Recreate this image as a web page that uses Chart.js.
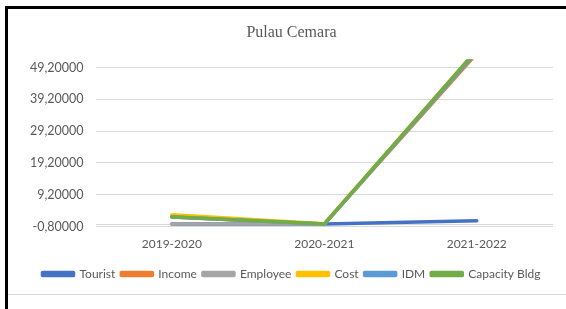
<!DOCTYPE html>
<html lang="id">
<head>
  <meta charset="UTF-8" />
  <title>Pulau Cemara</title>
  <script src="https://cdn.jsdelivr.net/npm/chart.js"></script>
  <style>
    body { margin: 0; background: #fff; }
    #frame {
      position: absolute; left: 5px; top: 6px; width: 561px; height: 303px;
      border-left: 3px solid #000; border-top: 3px solid #000;
    }
    #box {
      position: absolute; left: 0; top: 0; width: 558px; height: 285px;
      border-bottom: 1px solid #d9d9d9;
    }
  </style>
</head>
<body>
  <div id="frame">
    <div id="box"><canvas id="chart"></canvas></div>
  </div>

  <script>
    // data
    const categories = ['2019-2020', '2020-2021', '2021-2022'];
    const tourist  = [0.0, 0.0, 1.0];
    const income   = [2.2, 0.0, 53.6];
    const employee = [0.0, 0.0, 54.3];
    const cost     = [2.9, 0.1, 54.6];
    const idm      = [2.2, 0.0, 54.2];
    const capacity = [2.3, 0.0, 54.7];
    const yTicks = [-0.8, 0, 9.2, 19.2, 29.2, 39.2, 49.2];

    const series = [
      ['Tourist', tourist, '#4472C4'],
      ['Income', income, '#ED7D31'],
      ['Employee', employee, '#A5A5A5'],
      ['Cost', cost, '#FFC000'],
      ['IDM', idm, '#5B9BD5'],
      ['Capacity Bldg', capacity, '#70AD47']
    ];

    const grey = '#595959';

    new Chart(document.getElementById('chart'), {
      type: 'line',
      data: {
        labels: categories,
        datasets: series.map(([label, data, color], i) => ({
          label, data,
          borderColor: color,
          backgroundColor: color,
          borderWidth: 3.5,
          borderJoinStyle: 'round',
          borderCapStyle: 'round',
          pointRadius: 0,
          tension: 0,
          clip: 0,
          order: series.length - i   // last series on top, like Excel
        }))
      },
      options: {
        responsive: true,
        maintainAspectRatio: false,
        animation: false,
        layout: { padding: { left: 22, right: 13, bottom: 4 } },
        plugins: {
          title: {
            display: true,
            text: 'Pulau Cemara',
            color: grey,
            font: { family: 'Liberation Serif', size: 16, weight: 'normal' },
            padding: { top: 14, bottom: 17 }
          },
          legend: {
            position: 'bottom',
            labels: {
              color: grey,
              font: { family: 'Lato', size: 12 },
              boxWidth: 31,
              boxHeight: 3,
              padding: 6,
              sort: (a, b) => a.datasetIndex - b.datasetIndex
            }
          },
          tooltip: { enabled: false }
        },
        scales: {
          x: {
            offset: true,
            grid: { display: false },
            border: { display: false },
            ticks: { color: grey, font: { family: 'Lato', size: 12 }, padding: 2 },
            afterFit: (s) => { s.height += 9; }
          },
          y: {
            min: -0.8,
            max: 51.8,
            afterBuildTicks: (axis) => { axis.ticks = yTicks.map(v => ({ value: v })); },
            afterFit: (s) => { s.width -= 12; },
            grid: { color: '#d9d9d9', lineWidth: 1, drawTicks: false },
            border: { display: false },
            ticks: {
              color: grey,
              font: { family: 'Lato', size: 12.5 },
              padding: 12,
              callback: (v) => v === 0 ? '' : v.toFixed(5).replace('.', ',')
            }
          }
        }
      }
    });
  </script>
</body>
</html>
